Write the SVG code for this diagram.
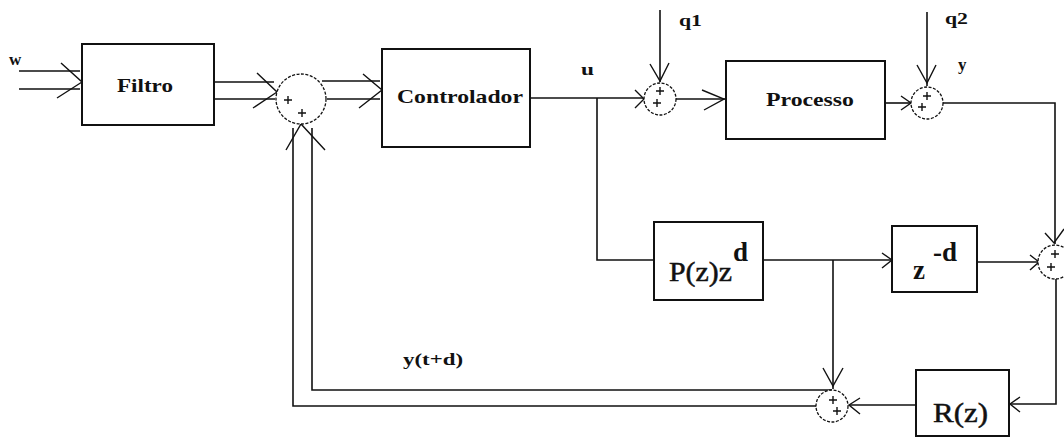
<svg xmlns="http://www.w3.org/2000/svg" width="1064" height="438" viewBox="0 0 1064 438">
<style>
.box{fill:none;stroke:#111;stroke-width:2}
.ln{fill:none;stroke:#111;stroke-width:1.6}
.ah{fill:none;stroke:#111;stroke-width:1.4}
.sum{fill:#fff;stroke:#111;stroke-width:1.3;stroke-dasharray:3 1.5}
.pl{fill:none;stroke:#111;stroke-width:1.4}
.lab{font-family:"Liberation Serif",serif;font-weight:bold;font-size:17px;fill:#111}
.blk{font-family:"Liberation Serif",serif;font-weight:bold;font-size:19px;fill:#111}
.big{font-family:"Liberation Serif",serif;font-weight:bold;font-size:27px;fill:#111}
.reg{font-family:"Liberation Serif",serif;font-size:28px;fill:#111;stroke:#111;stroke-width:0.5}
</style>
<rect width="1064" height="438" fill="#fff"/>
<g id="connectors">
<path class="ln" d="M19 71H80M19 89H80"/>
<path class="ah" d="M61 63L82 82L57 98"/>
<path class="ln" d="M214 82H274M214 99H275"/>
<path class="ah" d="M257 73L277 92L253 108"/>
<path class="ln" d="M322 81H380M327 99H380"/>
<path class="ah" d="M363 74L382 90L359 108"/>
<path class="ln" d="M530 98H643"/>
<path class="ah" d="M635 90L644 99L635 108"/>
<path class="ln" d="M597 98V260H654"/>
<path class="ln" d="M660 10V82"/>
<path class="ah" d="M650 64L660 81L669 63"/>
<path class="ln" d="M676 99H725"/>
<path class="ah" d="M702 90L724 99L704 110"/>
<path class="ln" d="M885 103H910"/>
<path class="ah" d="M901 96L911 103L901 110"/>
<path class="ln" d="M927 12V86"/>
<path class="ah" d="M917 65L927 83L936 65"/>
<path class="ln" d="M943 103H1055V244"/>
<path class="ah" d="M1045 233L1054 243L1064 229"/>
<path class="ln" d="M763 260H891"/>
<path class="ah" d="M882 253L892 260L882 268"/>
<path class="ln" d="M833 260V389"/>
<path class="ah" d="M823 368L833 386L843 368"/>
<path class="ln" d="M977 262H1038"/>
<path class="ah" d="M1030 255L1039 262L1030 270"/>
<path class="ln" d="M1056 279V404H1010"/>
<path class="ah" d="M1020 397L1010 404L1020 412"/>
<path class="ln" d="M916 405H849"/>
<path class="ah" d="M860 398L849 405L860 414"/>
<path class="ln" d="M832 390H312V128"/>
<path class="ln" d="M816 406H293V128"/>
<path class="ah" d="M286 150L301 124L325 150"/>
</g>
<g id="filtro">
<rect class="box" x="82" y="44" width="132" height="81"/>
<text class="blk" x="145" y="92" text-anchor="middle" textLength="56" lengthAdjust="spacingAndGlyphs">Filtro</text>
</g>
<g id="sum1">
<circle class="sum" cx="301" cy="99" r="25"/>
<path class="pl" d="M284 100H292M288 96V104M298 113H306M302 109V117"/>
</g>
<g id="controlador">
<rect class="box" x="382" y="49" width="148" height="98"/>
<text class="blk" x="460" y="103" text-anchor="middle" textLength="126" lengthAdjust="spacingAndGlyphs">Controlador</text>
</g>
<g id="sum2">
<circle class="sum" cx="660" cy="99" r="16"/>
<path class="pl" d="M656 91H664M660 87V95M653 103H661M657 99V107"/>
</g>
<g id="processo">
<rect class="box" x="726" y="61" width="159" height="78"/>
<text class="blk" x="810" y="106" text-anchor="middle" textLength="88" lengthAdjust="spacingAndGlyphs">Processo</text>
</g>
<g id="sumq2">
<circle class="sum" cx="927" cy="103" r="16"/>
<path class="pl" d="M923 96H931M927 92V100M918 107H926M922 103V111"/>
</g>
<g id="pz">
<rect class="box" x="654" y="222" width="109" height="78"/>
<text class="reg" x="669" y="281" textLength="63" lengthAdjust="spacingAndGlyphs">P(z)z</text>
<text class="big" x="733" y="261" font-size="22">d</text>
</g>
<g id="zd">
<rect class="box" x="892" y="226" width="85" height="66"/>
<text class="big" x="913" y="279">z</text>
<text class="big" x="933" y="261" font-size="24">-d</text>
</g>
<g id="sum4">
<circle class="sum" cx="1055" cy="262" r="17"/>
<path class="pl" d="M1051 254H1059M1055 250V258M1047 267H1055M1051 263V271"/>
</g>
<g id="rz">
<rect class="box" x="916" y="370" width="93" height="66"/>
<text class="reg" x="933" y="422" textLength="55" lengthAdjust="spacingAndGlyphs">R(z)</text>
</g>
<g id="sum3">
<circle class="sum" cx="832" cy="406" r="16"/>
<path class="pl" d="M829 400H837M833 396V404M833 411H841M837 407V415"/>
</g>
<g id="labels">
<text class="lab" x="9" y="65">w</text>
<text class="lab" x="581" y="75" textLength="13" lengthAdjust="spacingAndGlyphs">u</text>
<text class="lab" x="679" y="26" textLength="23" lengthAdjust="spacingAndGlyphs">q1</text>
<text class="lab" x="945" y="24" textLength="23" lengthAdjust="spacingAndGlyphs">q2</text>
<text class="lab" x="958" y="70">y</text>
<text class="lab" x="403" y="365" textLength="60" lengthAdjust="spacingAndGlyphs">y(t+d)</text>
</g>
</svg>
